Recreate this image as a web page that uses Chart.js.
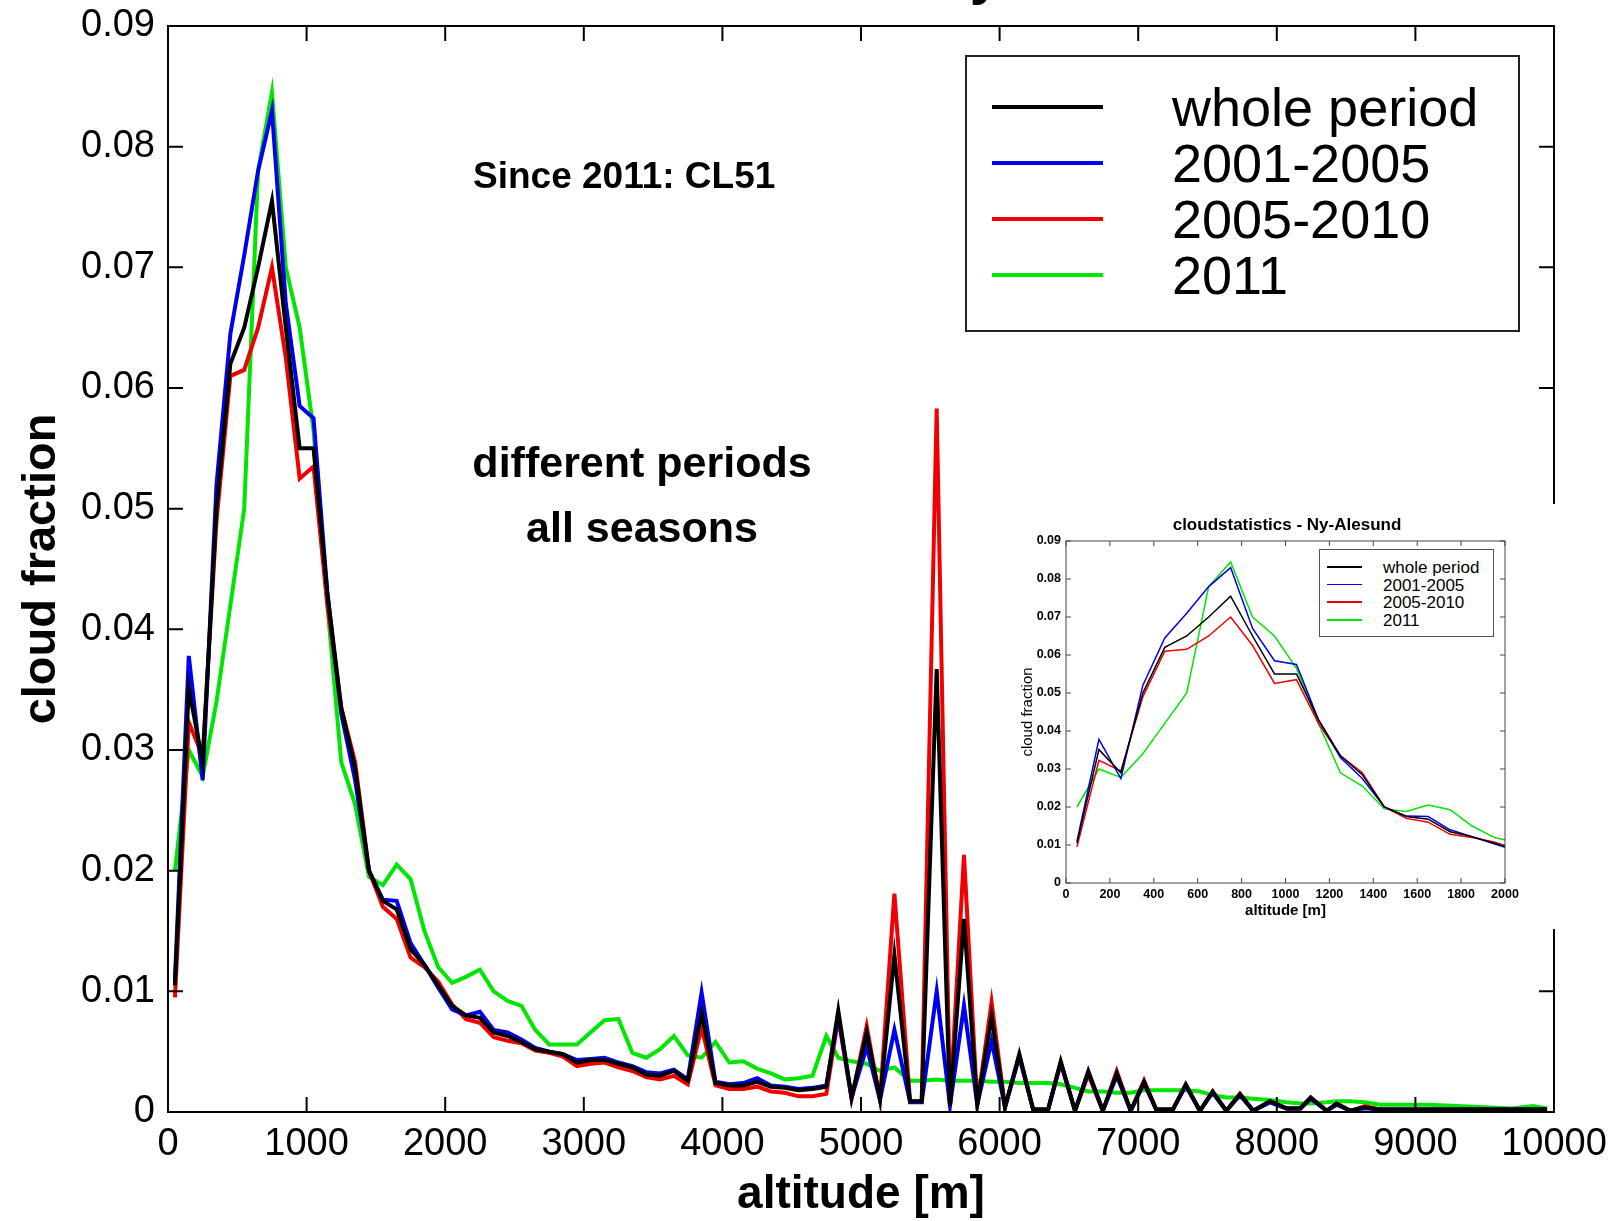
<!DOCTYPE html>
<html><head><meta charset="utf-8">
<script src="https://cdn.jsdelivr.net/npm/chart.js@4.4.1/dist/chart.umd.min.js"></script>
<style>
html,body{margin:0;padding:0;background:#fff;overflow:hidden;width:1619px;height:1221px;position:relative;}
canvas{display:block;}
#main{position:absolute;left:0;top:0;}
.txt{position:absolute;white-space:nowrap;font-family:"Liberation Sans",Arial,sans-serif;color:#000;line-height:1;}
.b{font-weight:bold;}
#legend{position:absolute;left:965px;top:55px;width:551px;height:273px;border:2px solid #222;background:#fff;}
#insetWrap{position:absolute;left:1020px;top:504px;width:544px;height:425px;background:#fff;}
#insetLegend{position:absolute;left:1319px;top:549px;width:173px;height:86px;border:1.5px solid #555;background:#fff;}
.lline{position:absolute;}
</style></head><body>
<canvas id="main" width="1619" height="1221"></canvas>
<div class="txt b" style="left:862px;top:-55px;font-size:57px;transform:translateX(-50%);">cloudstatistics - Ny-Alesund</div>
<div class="txt b" style="left:473px;top:157px;font-size:37px;">Since 2011: CL51</div>
<div class="txt b" style="left:642px;top:441px;font-size:43px;transform:translateX(-50%);">different periods</div>
<div class="txt b" style="left:642px;top:506px;font-size:43px;transform:translateX(-50%);">all seasons</div>
<div id="legend"></div>
<div id="insetWrap"><canvas id="inset" width="544" height="425"></canvas></div>
<div class="txt b" style="left:1287px;top:516px;font-size:17px;transform:translateX(-50%);">cloudstatistics - Ny-Alesund</div>
<div id="insetLegend"></div>
<script>
// ---------------- data ----------------
const altitude = [50,150,250,350,450,550,650,750,850,950,1050,1150,1250,1350,1450,1550,1650,1750,1850,1950,
  2050,2150,2250,2350,2450,2550,2650,2750,2850,2950,3050,3150,3250,3350,3450,3550,3650,3750,3850,3950,
  4050,4150,4250,4350,4450,4550,4650,4750,
  4836,4932,5041,5137,5241,5354,5438,5546,5642,5743,5839,5942,6039,6142,6242,6350,6441,6544,6640,6745,
  6845,6946,7042,7130,7250,7343,7445,7537,7636,7734,7830,7951,8070,8170,8244,8360,8432,8530,8636,8750,
  8900,9100,9300,9500,9700,9850,9950];

const wholePeriod = [.0105,.0351,.0290,.0500,.0620,.0650,.0700,.0755,.0650,.0550,.0550,.0430,.0335,.0285,.0200,.0175,.0168,.0135,.0122,.0105,
  .0088,.0080,.0078,.0066,.0063,.0058,.0052,.0050,.0048,.0041,.0043,.0043,.0040,.0037,.0031,.0030,.0034,.0026,.0082,.0024,
  .0022,.0022,.0025,.0021,.0020,.0018,.0019,.0021,
  .0084,.0012,.0066,.0011,.0130,.0009,.0009,.0367,.0005,.0160,.0006,.0079,.0004,.0048,.0002,.0002,.0042,.0001,.0033,.0001,
  .0032,.0001,.0025,.0002,.0002,.0023,.0001,.0017,.0001,.0015,.0001,.0009,.0003,.0003,.0012,.0001,.0007,.0001,.0004,.0002,
  .0002,.0002,.0002,.0002,.0002,.0002,.0002];

const period2001_2005 = [.0110,.0378,.0275,.0520,.0645,.0710,.0780,.0830,.0670,.0585,.0575,.0430,.0330,.0275,.0200,.0176,.0175,.0140,.0122,.0103,
  .0085,.0080,.0083,.0068,.0066,.0060,.0053,.0050,.0048,.0043,.0044,.0045,.0041,.0038,.0033,.0032,.0035,.0027,.0099,.0025,
  .0023,.0024,.0028,.0022,.0021,.0019,.0020,.0022,
  .0080,.0012,.0054,.0010,.0068,.0008,.0008,.0100,.0005,.0088,.0006,.0059,.0004,.0046,.0002,.0002,.0041,.0001,.0034,.0001,
  .0030,.0001,.0024,.0002,.0002,.0022,.0001,.0016,.0001,.0014,.0001,.0008,.0003,.0003,.0011,.0001,.0006,.0001,.0003,.0002,
  .0002,.0002,.0002,.0002,.0002,.0002,.0002];

const period2005_2010 = [.0095,.0323,.0295,.0490,.0610,.0615,.0650,.0700,.0625,.0525,.0535,.0420,.0335,.0290,.0200,.0170,.0160,.0128,.0120,.0108,
  .0089,.0077,.0074,.0062,.0059,.0057,.0051,.0049,.0046,.0038,.0040,.0041,.0037,.0034,.0029,.0027,.0030,.0023,.0070,.0022,
  .0019,.0019,.0021,.0017,.0016,.0013,.0013,.0015,
  .0078,.0011,.0071,.0010,.0181,.0009,.0009,.0583,.0005,.0213,.0006,.0091,.0004,.0046,.0002,.0002,.0040,.0001,.0031,.0001,
  .0034,.0001,.0026,.0002,.0002,.0022,.0001,.0017,.0001,.0015,.0001,.0009,.0003,.0003,.0012,.0001,.0007,.0001,.0005,.0002,
  .0002,.0002,.0002,.0002,.0002,.0002,.0002];

const year2011 = [.0200,.0300,.0278,.0340,.0420,.0500,.0780,.0845,.0700,.0650,.0565,.0420,.0290,.0255,.0195,.0188,.0205,.0193,.0150,.0120,
  .0107,.0112,.0118,.0100,.0092,.0088,.0068,.0056,.0056,.0056,.0066,.0076,.0077,.0049,.0045,.0052,.0063,.0047,.0045,.0058,
  .0041,.0042,.0036,.0032,.0027,.0028,.0030,.0063,
  .0045,.0042,.0040,.0034,.0037,.0026,.0026,.0027,.0026,.0026,.0026,.0025,.0025,.0024,.0024,.0024,.0023,.0020,.0017,.0017,
  .0016,.0016,.0018,.0018,.0018,.0018,.0017,.0014,.0012,.0012,.0011,.0010,.0008,.0007,.0007,.0008,.0009,.0009,.0008,.0006,
  .0006,.0006,.0005,.0004,.0003,.0005,.0003];

const seriesNames = ['whole period', '2001-2005', '2005-2010', '2011'];
const seriesValues = [wholePeriod, period2001_2005, period2005_2010, year2011];
const seriesColors = ['#000000', '#0000f0', '#f00000', '#00e600'];
const insetPointCount = 21; // points up to 2050 m, clipped at 2000 m

// ---------------- chart ----------------
Chart.defaults.font.family = '"Liberation Sans", Arial, sans-serif';
Chart.defaults.color = '#000';

const boxTicks = {
  id: 'boxTicks',
  afterDatasetsDraw(chart, args, o) {
    const {ctx, chartArea: a, scales: {x, y}} = chart;
    ctx.save();
    ctx.strokeStyle = o.color;
    ctx.lineWidth = o.width;
    ctx.beginPath();
    x.ticks.forEach(t => {
      const p = x.getPixelForValue(t.value);
      ctx.moveTo(p, a.bottom); ctx.lineTo(p, a.bottom - o.len);
      ctx.moveTo(p, a.top); ctx.lineTo(p, a.top + o.len);
    });
    y.ticks.forEach(t => {
      const p = y.getPixelForValue(t.value);
      ctx.moveTo(a.left, p); ctx.lineTo(a.left + o.len, p);
      ctx.moveTo(a.right, p); ctx.lineTo(a.right - o.len, p);
    });
    ctx.stroke();
    ctx.strokeRect(a.left, a.top, a.right - a.left, a.bottom - a.top);
    ctx.restore();
  }
};

function makeSets(n, width) {
  return seriesValues.map((vals, i) => ({
    label: seriesNames[i],
    data: altitude.slice(0, n).map((alt, k) => ({x: alt, y: vals[k]})),
    borderColor: seriesColors[i],
    backgroundColor: seriesColors[i],
    borderWidth: width,
    pointRadius: 0,
    tension: 0,
    fill: false,
    order: i
  }));
}
const fracLabel = v => (Math.abs(v) < 1e-9 ? '0' : v.toFixed(2));
const fixX = h => s => { s.height = h; s.paddingLeft = 0; s.paddingRight = 0; };
const fixY = w => s => { s.width = w; s.paddingTop = 0; s.paddingBottom = 0; };
const noGrid = {display: false, drawTicks: false};

new Chart(document.getElementById('main'), {
  type: 'line',
  data: {datasets: makeSets(altitude.length, 4)},
  options: {
    responsive: false, animation: false, devicePixelRatio: 1,
    layout: {padding: {top: 26, right: 65, left: 0, bottom: 0}},
    plugins: {legend: {display: false}, tooltip: {enabled: false},
      boxTicks: {len: 15, width: 2, color: '#000'}},
    scales: {
      x: {
        type: 'linear', min: 0, max: 10000,
        afterFit: fixX(109),
        ticks: {stepSize: 1000, autoSkip: false, maxRotation: 0, padding: 10, color: '#000',
          font: {size: 38}, callback: v => String(v)},
        grid: noGrid, border: {display: false},
        title: {display: true, text: 'altitude [m]', color: '#000',
          font: {size: 46, weight: 'bold', lineHeight: 1.1}, padding: {top: 0, bottom: 0}}
      },
      y: {
        min: 0, max: 0.09,
        afterFit: fixY(168),
        ticks: {stepSize: 0.01, autoSkip: false, padding: 13, color: '#000',
          font: {size: 38}, callback: fracLabel},
        grid: noGrid, border: {display: false},
        title: {display: true, text: 'cloud fraction', color: '#000',
          font: {size: 47, weight: 'bold', lineHeight: 1.2}, padding: {top: 14, bottom: 0}}
      }
    }
  },
  plugins: [boxTicks]
});

new Chart(document.getElementById('inset'), {
  type: 'line',
  data: {datasets: makeSets(insetPointCount, 1.5)},
  options: {
    responsive: false, animation: false, devicePixelRatio: 1,
    layout: {padding: {top: 37, right: 59, left: 0, bottom: 0}},
    plugins: {legend: {display: false}, tooltip: {enabled: false},
      boxTicks: {len: 5, width: 1, color: '#444'}},
    scales: {
      x: {
        type: 'linear', min: 0, max: 2000,
        afterFit: fixX(46),
        ticks: {stepSize: 200, autoSkip: false, maxRotation: 0, padding: 4, color: '#000',
          font: {size: 12.5, weight: 'bold'}, callback: v => String(v)},
        grid: noGrid, border: {display: false},
        title: {display: true, text: 'altitude [m]', color: '#000',
          font: {size: 15, weight: 'bold', lineHeight: 1.2}, padding: {top: 0, bottom: 9}}
      },
      y: {
        min: 0, max: 0.09,
        afterFit: fixY(46),
        ticks: {stepSize: 0.01, autoSkip: false, padding: 5, color: '#000',
          font: {size: 12.5, weight: 'bold'}, callback: fracLabel},
        grid: noGrid, border: {display: false},
        title: {display: true, text: 'cloud fraction', color: '#000',
          font: {size: 15, lineHeight: 1.0}, padding: {top: 0, bottom: 0}}
      }
    }
  },
  plugins: [boxTicks]
});

// ---------------- legends (HTML) ----------------
function buildLegend(el, o) {
  seriesNames.forEach((name, i) => {
    const line = document.createElement('div');
    line.className = 'lline';
    line.style.left = o.lineLeft + 'px';
    line.style.top = (o.lineTop + i * o.step - o.lw / 2) + 'px';
    line.style.width = o.lineW + 'px';
    line.style.height = o.lw + 'px';
    line.style.background = seriesColors[i];
    el.appendChild(line);
    const t = document.createElement('div');
    t.className = 'txt';
    t.style.left = o.textLeft + 'px';
    t.style.top = (o.textTop + i * o.step) + 'px';
    t.style.fontSize = o.size + 'px';
    t.textContent = name;
    el.appendChild(t);
  });
}
buildLegend(document.getElementById('legend'),
  {lineLeft: 25, lineTop: 50, step: 56, lineW: 111, lw: 4, textLeft: 205, textTop: 23, size: 54});
buildLegend(document.getElementById('insetLegend'),
  {lineLeft: 7, lineTop: 17, step: 17.6, lineW: 35, lw: 1.5, textLeft: 63, textTop: 9, size: 17});
</script>
</body></html>
